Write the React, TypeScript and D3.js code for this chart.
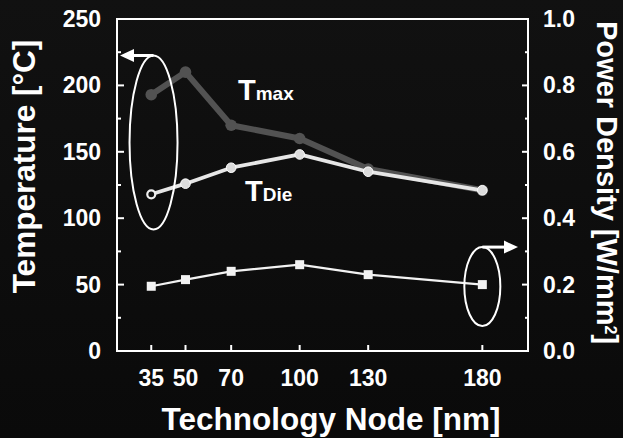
import React from "react";
import * as d3 from "d3";

// Technology node (nm) on the x axis
const nodes = [35, 50, 70, 100, 130, 180];
// Peak temperature (°C)
const tMax = [193, 210, 170, 160, 137, 121];
// Die temperature (°C)
const tDie = [118, 126, 138, 148, 135, 121];
// Power density (W/mm²), right axis
const powerDensity = [0.195, 0.215, 0.24, 0.26, 0.23, 0.2];

const tempTicks = [0, 50, 100, 150, 200, 250];
const tempMinor = [25, 75, 125, 175, 225];
const powerTicks = [0, 0.2, 0.4, 0.6, 0.8, 1.0];
const powerMinor = [0.1, 0.3, 0.5, 0.7, 0.9];

const W = 623;
const H = 438;
const FONT = "'Liberation Sans', Arial, Helvetica, sans-serif";

export default function App() {
  const x = d3.scaleLinear().domain([20, 200]).range([117, 528]);
  const yT = d3.scaleLinear().domain([0, 250]).range([351, 19]);
  const yP = d3.scaleLinear().domain([0, 1]).range([351, 19]);

  const lineT = d3
    .line<number>()
    .x((_, i) => x(nodes[i]))
    .y((d) => yT(d));
  const lineP = d3
    .line<number>()
    .x((_, i) => x(nodes[i]))
    .y((d) => yP(d));

  const [x0, x1] = x.range();
  const [yBot, yTop] = yT.range();

  // annotation ellipses tying series to their axes
  const leftEll = { cx: x(36), cy: yT(157), rx: 24, ry: 87 };
  const rightEll = { cx: x(180), cy: yP(0.194), rx: 18, ry: 39.5 };

  const arrowHead = (tipX: number, y: number, dir: number) =>
    `M${tipX},${y} L${tipX + dir * 14},${y - 6.5} L${tipX + dir * 14},${y + 6.5} Z`;

  return (
    <svg
      width={W}
      height={H}
      style={{ position: "absolute", left: 0, top: 0, display: "block" }}
      fontFamily={FONT}
      fontWeight="bold"
    >
      <defs>
        <linearGradient id="bg" x1="0" y1="0" x2="0" y2="1">
          <stop offset="0" stopColor="#111111" />
          <stop offset="1" stopColor="#0a0a0a" />
        </linearGradient>
      </defs>
      <rect width={W} height={H} fill="url(#bg)" />

      {/* frame */}
      <rect
        x={x0}
        y={yTop}
        width={x1 - x0}
        height={yBot - yTop}
        fill="none"
        stroke="#ffffff"
        strokeWidth={2}
      />

      {/* left axis ticks + labels */}
      {tempTicks.map((t) => (
        <g key={"lt" + t}>
          <line x1={x0} x2={x0 + 7} y1={yT(t)} y2={yT(t)} stroke="#fff" strokeWidth={2} />
          <text x={101} y={yT(t) + 8} textAnchor="end" fill="#fff" fontSize={23}>
            {t}
          </text>
        </g>
      ))}
      {tempMinor.map((t) => (
        <line key={"lm" + t} x1={x0} x2={x0 + 4} y1={yT(t)} y2={yT(t)} stroke="#fff" strokeWidth={2} />
      ))}

      {/* right axis ticks + labels */}
      {powerTicks.map((p) => (
        <g key={"rt" + p}>
          <line x1={x1} x2={x1 - 6} y1={yP(p)} y2={yP(p)} stroke="#fff" strokeWidth={2} />
          <text x={543} y={yP(p) + 8} textAnchor="start" fill="#fff" fontSize={23}>
            {p.toFixed(1)}
          </text>
        </g>
      ))}
      {powerMinor.map((p) => (
        <line key={"rm" + p} x1={x1} x2={x1 - 3} y1={yP(p)} y2={yP(p)} stroke="#fff" strokeWidth={2} />
      ))}

      {/* bottom axis ticks + labels */}
      {nodes.map((n) => (
        <g key={"bt" + n}>
          <line x1={x(n)} x2={x(n)} y1={yBot} y2={yBot - 6} stroke="#fff" strokeWidth={2} />
          <text x={x(n)} y={386} textAnchor="middle" fill="#fff" fontSize={23}>
            {n}
          </text>
        </g>
      ))}

      {/* T_max series */}
      <path d={lineT(tMax) ?? ""} fill="none" stroke="#525252" strokeWidth={6} strokeLinejoin="round" />
      {tMax.map((v, i) => (
        <circle key={"tm" + i} cx={x(nodes[i])} cy={yT(v)} r={5.8} fill="#525252" />
      ))}

      {/* T_die series */}
      <path d={lineT(tDie) ?? ""} fill="none" stroke="#e6e6e6" strokeWidth={3.8} strokeLinejoin="round" />
      {tDie.map((v, i) =>
        i === 0 ? (
          <circle key={"td" + i} cx={x(nodes[i])} cy={yT(v)} r={4} fill="#111" stroke="#f0f0f0" strokeWidth={2.2} />
        ) : (
          <circle key={"td" + i} cx={x(nodes[i])} cy={yT(v)} r={4.8} fill="#dcdcdc" stroke="#ffffff" strokeWidth={1} />
        )
      )}

      {/* power density series */}
      <path d={lineP(powerDensity) ?? ""} fill="none" stroke="#f2f2f2" strokeWidth={2.2} />
      {powerDensity.map((v, i) => (
        <rect key={"pd" + i} x={x(nodes[i]) - 4.5} y={yP(v) - 4.5} width={9} height={9} fill="#f2f2f2" />
      ))}

      {/* axis annotations */}
      <ellipse {...leftEll} fill="none" stroke="#fff" strokeWidth={2} />
      <line
        x1={leftEll.cx}
        x2={x0 + 14}
        y1={leftEll.cy - leftEll.ry}
        y2={leftEll.cy - leftEll.ry}
        stroke="#fff"
        strokeWidth={3}
      />
      <path d={arrowHead(x0 + 3, leftEll.cy - leftEll.ry, 1)} fill="#fff" />

      <ellipse {...rightEll} fill="none" stroke="#fff" strokeWidth={2} />
      <line
        x1={rightEll.cx}
        x2={x1 - 22}
        y1={rightEll.cy - rightEll.ry}
        y2={rightEll.cy - rightEll.ry}
        stroke="#fff"
        strokeWidth={3}
      />
      <path d={arrowHead(x1 - 10, rightEll.cy - rightEll.ry, -1)} fill="#fff" />

      {/* series labels */}
      <text x={238} y={100} fill="#fff">
        <tspan fontSize={29}>T</tspan>
        <tspan fontSize={19}>max</tspan>
      </text>
      <text x={245} y={201} fill="#fff">
        <tspan fontSize={29}>T</tspan>
        <tspan fontSize={19}>Die</tspan>
      </text>

      {/* axis titles */}
      <text
        transform={`translate(35,166.5) rotate(-90)`}
        textAnchor="middle"
        fill="#fff"
        fontSize={31.5}
      >
        Temperature [°C]
      </text>
      <text
        transform={`translate(597,182.5) rotate(90)`}
        textAnchor="middle"
        fill="#fff"
        fontSize={29}
      >
        Power Density [W/mm<tspan fontSize={16} dy={-8}>2</tspan>
        <tspan dy={8}>]</tspan>
      </text>
      <text x={331} y={430} textAnchor="middle" fill="#fff" fontSize={31.5}>
        Technology Node [nm]
      </text>
    </svg>
  );
}
